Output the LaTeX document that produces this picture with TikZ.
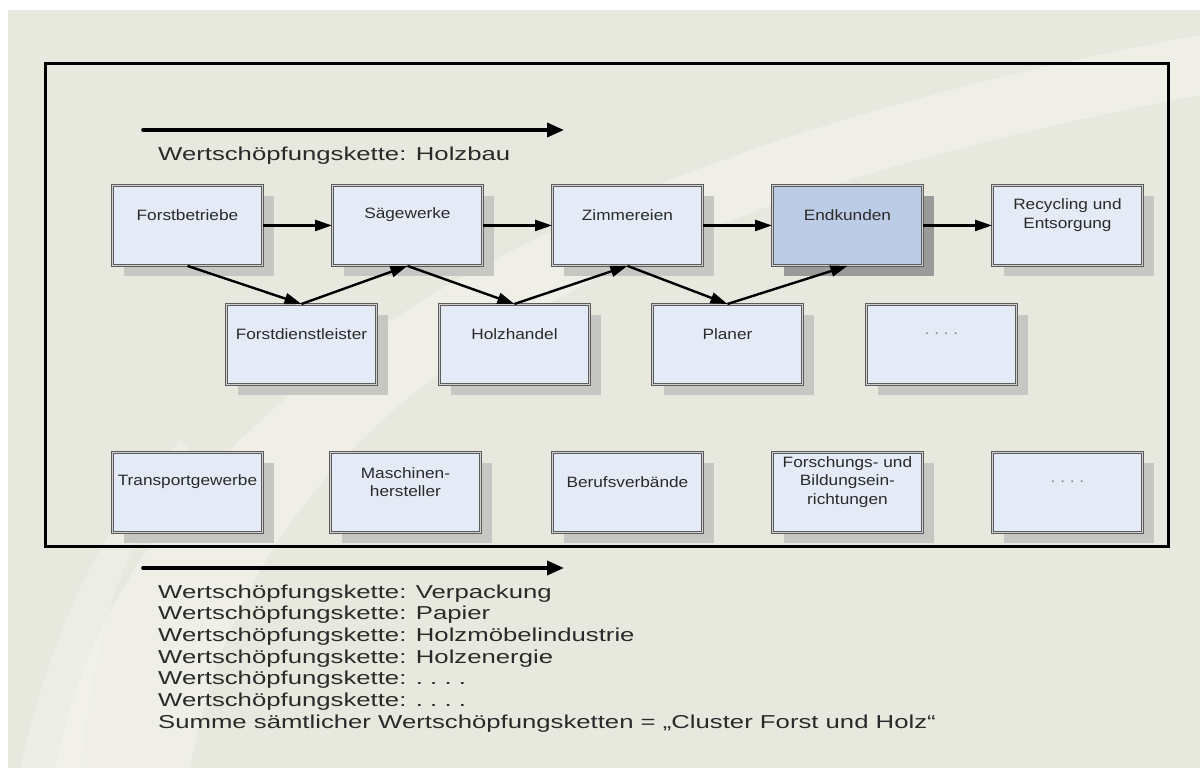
\documentclass[tikz,border=0pt]{standalone}
\usepackage{fontspec}
\setmainfont{Liberation Sans}
\newfontfamily\bigfont[FakeStretch=1.375]{Liberation Sans}
\newfontfamily\boxfont[FakeStretch=1.15]{Liberation Sans}
\usetikzlibrary{arrows.meta,shadows,calc}
\definecolor{bgc}{HTML}{E8E9DE}
\definecolor{swoosh}{HTML}{F4F4EF}
\definecolor{boxfill}{HTML}{E5EAF7}
\definecolor{boxedge}{HTML}{5C5C5C}
\definecolor{boxinner}{HTML}{CFCFCF}
\definecolor{shadowc}{HTML}{C6C6C2}
\definecolor{endfill}{HTML}{BCCBE6}
\definecolor{endshadow}{HTML}{9A9A98}
\definecolor{textc}{HTML}{2A2A2A}
\definecolor{dotc}{HTML}{808080}
\tikzset{
  box/.style={rectangle, anchor=north west, minimum width=150pt, minimum height=80pt,
    inner sep=0pt, fill=boxfill, draw=boxedge, double=boxinner, double distance=0.8pt,
    line width=0.9pt,
    general shadow={fill=shadowc, shadow xshift=12pt, shadow yshift=-11pt}},
  endbox/.style={box, fill=endfill,
    general shadow={fill=endshadow, shadow xshift=12pt, shadow yshift=-11pt}},
  btext/.style={font=\boxfont\fontsize{15}{18.5}\selectfont, align=center, text=textc, inner sep=0pt},
  dtext/.style={btext, text=dotc},
  bigtext/.style={font=\bigfont\fontsize{18.7}{21.7}\selectfont, text=textc, inner sep=0pt, anchor=base west},
  conn/.style={-{Triangle[length=17pt,width=11pt]}, line width=2.4pt, black},
  bigarrow/.style={-{Triangle[length=17pt,width=14pt]}, line width=3.6pt, line cap=round, black},
}
\newcommand\putbox[5][box]{%
  \node[#1] (#2) at (#3,#4) {};
  \node[btext] (#2t) at ($(#2.north)+(0,30)$) {#5};
}
\newcommand\putdots[4][box]{%
  \node[#1] (#2) at (#3,#4) {};
  \node[dtext] (#2t) at ($(#2.north)+(0,30)$) {.\ .\ .\ .};
}
\begin{document}
\begin{tikzpicture}[x=1pt,y=-1pt]
\useasboundingbox (0,0) rectangle (1200,770);
\fill[white] (0,0) rectangle (1200,770);
\fill[bgc] (8,10) rectangle (1200,768);
% light swoosh
\fill[swoosh, opacity=0.6] (55,768) .. controls (120,440) and (470,170) .. (1200,35)
  -- (1200,95) .. controls (540,220) and (250,430) .. (190,768) -- cycle;
\fill[swoosh, opacity=0.4] (20,768) .. controls (60,600) and (110,520) .. (180,440)
  -- (190,450) .. controls (120,540) and (95,640) .. (80,768) -- cycle;
% frame
\draw[line width=3pt] (45,64) rectangle (1168,546);
% top arrow and title
\coordinate (a1s) at (143,130);
\coordinate (a1e) at (564,130);
\draw[bigarrow] (a1s) -- (a1e);
\node[bigtext] (title) at (158,161) {Wertschöpfungskette: Holzbau};
% top row
\putbox{fb}{112}{185}{Forstbetriebe}
\putbox{sw}{332}{185}{Sägewerke}
\putbox{zi}{552}{185}{Zimmereien}
\putbox[endbox]{ek}{772}{185}{Endkunden}
\putbox{re}{992}{185}{Recycling und\\Entsorgung}
% middle row
\putbox{fd}{226}{304}{Forstdienstleister}
\putbox{hh}{439}{304}{Holzhandel}
\putbox{pl}{652}{304}{Planer}
\putdots{md}{866}{304}
% bottom row
\putbox{tg}{112}{452}{Transportgewerbe}
\putbox{mh}{330}{452}{Maschinen-\\hersteller}
\putbox{bv}{552}{452}{Berufsverbände}
\putbox{fo}{772}{452}{Forschungs- und\\Bildungsein-\\richtungen}
\putdots{bd}{992}{452}
% connectors
\draw[conn] (fb.east) -- (sw.west);
\draw[conn] (sw.east) -- (zi.west);
\draw[conn] (zi.east) -- (ek.west);
\draw[conn] (ek.east) -- (re.west);
\draw[conn] (fb.south) -- (fd.north);
\draw[conn] (fd.north) -- (sw.south);
\draw[conn] (sw.south) -- (hh.north);
\draw[conn] (hh.north) -- (zi.south);
\draw[conn] (zi.south) -- (pl.north);
\draw[conn] (pl.north) -- (ek.south);
% bottom arrow and list
\coordinate (a2s) at (143,568);
\coordinate (a2e) at (564,568);
\draw[bigarrow] (a2s) -- (a2e);
\node[bigtext] (l1) at (158,598) {Wertschöpfungskette: Verpackung};
\node[bigtext] (l2) at (158,619.7) {Wertschöpfungskette: Papier};
\node[bigtext] (l3) at (158,641.4) {Wertschöpfungskette: Holzmöbelindustrie};
\node[bigtext] (l4) at (158,663.1) {Wertschöpfungskette: Holzenergie};
\node[bigtext] (l5) at (158,684.8) {Wertschöpfungskette: .\ .\ .\ .};
\node[bigtext] (l6) at (158,706.5) {Wertschöpfungskette: .\ .\ .\ .};
\node[bigtext] (l7) at (158,728.2) {Summe sämtlicher Wertschöpfungsketten = „Cluster Forst und Holz“};
\end{tikzpicture}
\end{document}
